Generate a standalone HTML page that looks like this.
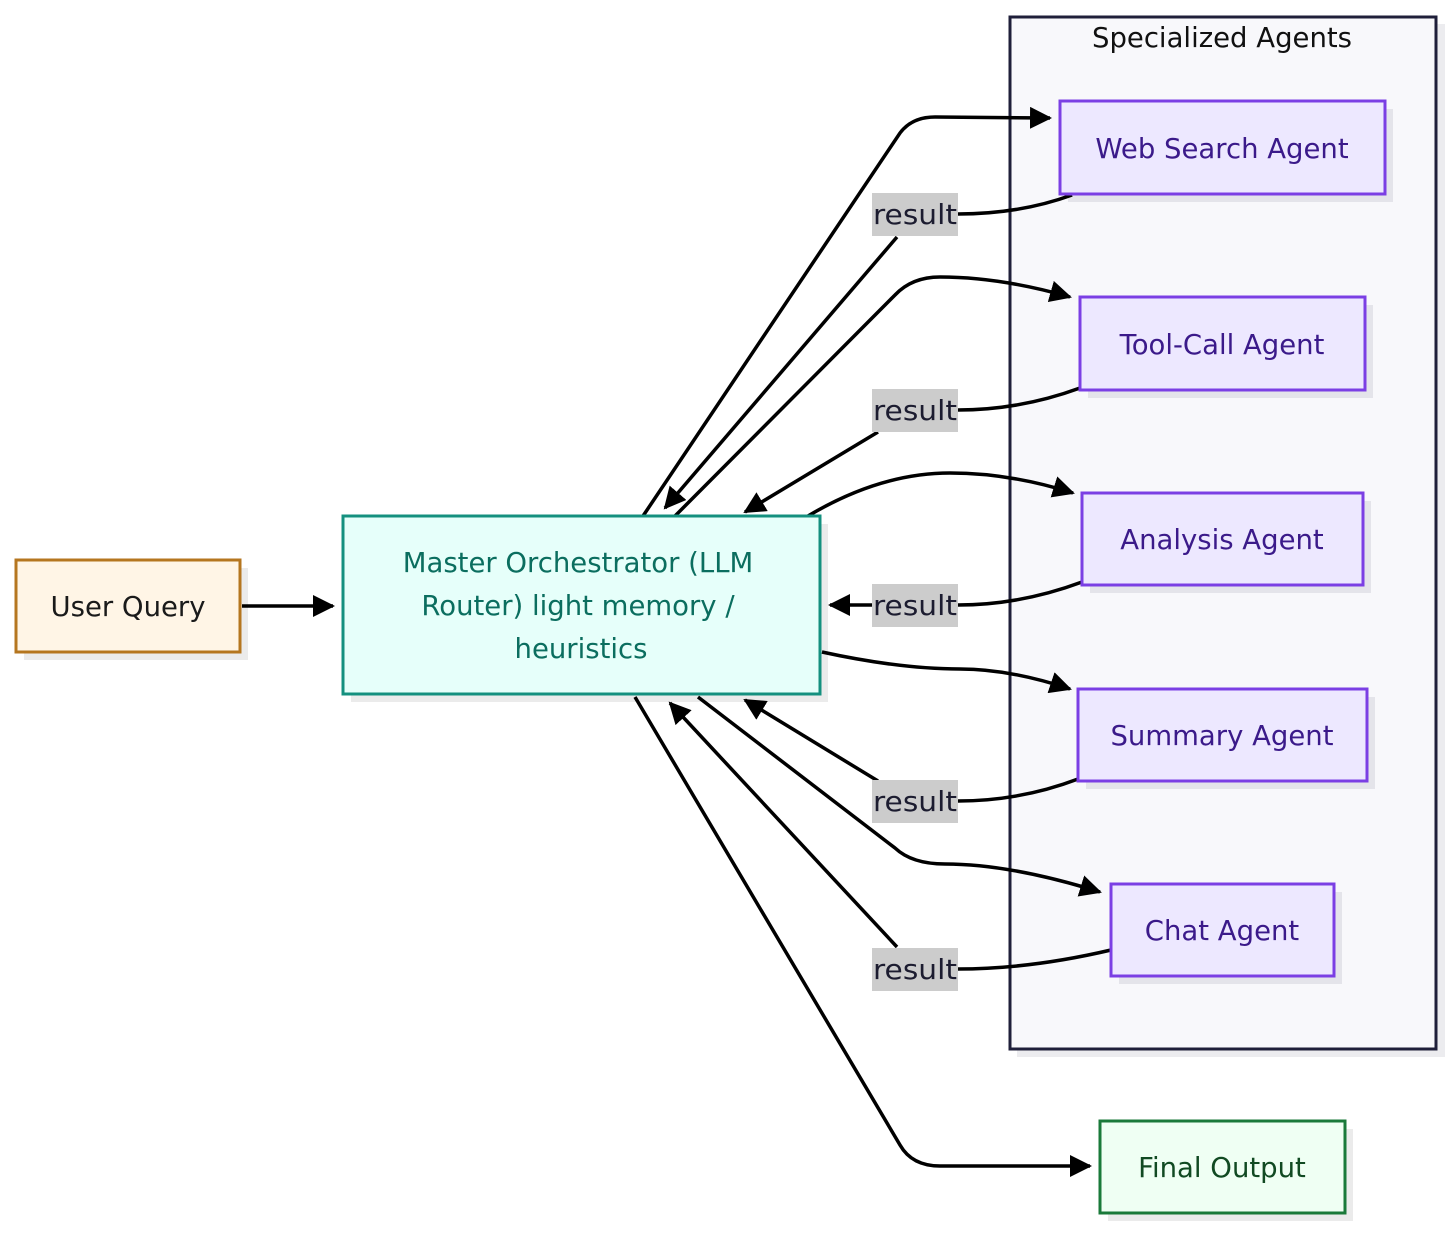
<!DOCTYPE html>
<html><head><meta charset="utf-8"><style>
html,body{margin:0;padding:0;background:#fff;}
svg{display:block;}
text{font-family:"DejaVu Sans","Liberation Sans",sans-serif;font-size:27.5px;}
</style></head><body>
<svg width="1456" height="1233" viewBox="0 0 1456 1233" xmlns="http://www.w3.org/2000/svg">
<defs>
<marker id="a" viewBox="0 0 22 22" refX="20" refY="11" markerWidth="22" markerHeight="22" markerUnits="userSpaceOnUse" orient="auto">
<path d="M0,0 L22,11 L0,22 z" fill="#000"/>
</marker>
</defs>
<rect x="1017" y="24" width="428" height="1033" fill="#ececef"/>
<rect x="1010" y="17" width="426" height="1032" fill="#f8f8fb" stroke="#1f1f3a" stroke-width="3"/>
<text x="1222" y="47" text-anchor="middle" fill="#111">Specialized Agents</text>

<g fill="#ebebeb">
<rect x="24" y="568" width="224" height="92"/>
<rect x="351" y="524" width="477" height="178"/>
<rect x="1068" y="109" width="325" height="93" fill="#e4e4ea"/>
<rect x="1088" y="305" width="285" height="93" fill="#e4e4ea"/>
<rect x="1090" y="501" width="281" height="92" fill="#e4e4ea"/>
<rect x="1086" y="697" width="289" height="92" fill="#e4e4ea"/>
<rect x="1119" y="892" width="223" height="92" fill="#e4e4ea"/>
<rect x="1108" y="1129" width="245" height="92"/>
</g>

<g fill="none" stroke="#000" stroke-width="3.5">
<path d="M242,606 L333,606" marker-end="url(#a)"/>
<path d="M643,516 L900,133 Q912,117 935,117 L1050,118" marker-end="url(#a)"/>
<path d="M1072,195 Q1020,214 958,214"/>
<path d="M897,237 L665,508" marker-end="url(#a)"/>
<path d="M675,516 L895,295 Q912,277 940,277 Q1000,277 1070,297" marker-end="url(#a)"/>
<path d="M1080,388 Q1020,410 958,410"/>
<path d="M878,432 L745,512" marker-end="url(#a)"/>
<path d="M808,516 Q880,473 950,473 Q1010,473 1073,493" marker-end="url(#a)"/>
<path d="M1082,582 Q1020,605 958,605"/>
<path d="M872,605 L830,605" marker-end="url(#a)"/>
<path d="M822,652 Q900,669 960,669 Q1010,669 1070,689" marker-end="url(#a)"/>
<path d="M1078,779 Q1020,801 958,801"/>
<path d="M878,781 L745,700" marker-end="url(#a)"/>
<path d="M698,697 L895,848 Q912,864 945,864 Q1010,864 1100,892" marker-end="url(#a)"/>
<path d="M1111,950 Q1030,969 958,969"/>
<path d="M897,947 L670,703" marker-end="url(#a)"/>
<path d="M635,697 L900,1145 Q912,1166 940,1166 L1090,1166" marker-end="url(#a)"/>
</g>

<g fill="#cccccc">
<rect x="872" y="193" width="86" height="43"/>
<rect x="872" y="389" width="86" height="43"/>
<rect x="872" y="584" width="86" height="43"/>
<rect x="872" y="780" width="86" height="43"/>
<rect x="872" y="948" width="86" height="43"/>
</g>
<g fill="#1c1c30" text-anchor="middle">
<text x="915" y="224" textLength="84" lengthAdjust="spacingAndGlyphs">result</text>
<text x="915" y="420" textLength="84" lengthAdjust="spacingAndGlyphs">result</text>
<text x="915" y="615" textLength="84" lengthAdjust="spacingAndGlyphs">result</text>
<text x="915" y="811" textLength="84" lengthAdjust="spacingAndGlyphs">result</text>
<text x="915" y="979" textLength="84" lengthAdjust="spacingAndGlyphs">result</text>
</g>

<rect x="16" y="560" width="224" height="92" fill="#fff5e6" stroke="#b5761f" stroke-width="3"/>
<text x="128" y="616" text-anchor="middle" fill="#1a1a1a">User Query</text>

<rect x="343" y="516" width="477" height="178" fill="#e6fffa" stroke="#14907f" stroke-width="3"/>
<g fill="#0b6e5f" text-anchor="middle">
<text x="578" y="572">Master Orchestrator (LLM</text>
<text x="578" y="615">Router) light memory /</text>
<text x="581" y="658">heuristics</text>
</g>

<g fill="#ede8ff" stroke="#7b3fe4" stroke-width="3">
<rect x="1060" y="101" width="325" height="93"/>
<rect x="1080" y="297" width="285" height="93"/>
<rect x="1082" y="493" width="281" height="92"/>
<rect x="1078" y="689" width="289" height="92"/>
<rect x="1111" y="884" width="223" height="92"/>
</g>
<g fill="#3b1a8a" text-anchor="middle">
<text x="1222" y="158">Web Search Agent</text>
<text x="1222" y="354">Tool-Call Agent</text>
<text x="1222" y="549">Analysis Agent</text>
<text x="1222" y="745">Summary Agent</text>
<text x="1222" y="940">Chat Agent</text>
</g>

<rect x="1100" y="1121" width="245" height="92" fill="#effff3" stroke="#1a7a3a" stroke-width="3"/>
<text x="1222" y="1177" text-anchor="middle" fill="#114a22">Final Output</text>
</svg>
</body></html>
